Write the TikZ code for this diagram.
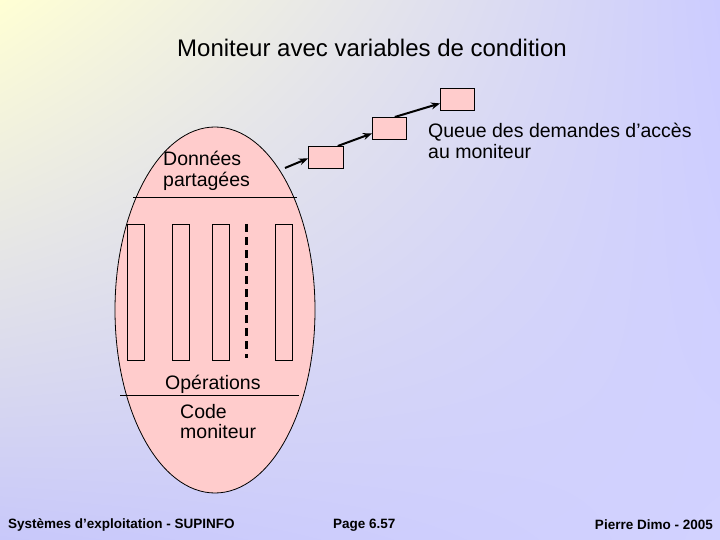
\documentclass[tikz,border=0pt]{standalone}
\usepackage{fontspec}
\setmainfont{Liberation Sans}
\usetikzlibrary{arrows.meta,shadings,calc,shapes.geometric}
\definecolor{pinkf}{RGB}{255,204,204}
\definecolor{ul}{RGB}{255,255,212}
\definecolor{ur}{RGB}{204,204,255}
\definecolor{ll}{RGB}{200,200,250}
\definecolor{lr}{RGB}{210,210,255}
\tikzset{box/.style={draw=black,fill=pinkf,line width=0.8pt},
 lbl/.style={font=\fontsize{19.5}{20.5}\selectfont,align=left,inner sep=0pt},
 foot/.style={font=\bfseries\fontsize{13.5}{15}\selectfont,inner sep=0pt},
 arr/.style={-{Stealth[length=9pt,width=7pt]},line width=2pt}}
\begin{document}
\begin{tikzpicture}[x=1pt,y=-1pt]
\useasboundingbox (0,0) rectangle (720,540);
\shade[upper left=ul,upper right=ur,lower left=ll,lower right=lr] (0,0) rectangle (720,540);
\node[lbl,font=\fontsize{24}{28}\selectfont] (title) at (372,48) {Moniteur avec variables de condition};
\node[box,ellipse,minimum width=200,minimum height=366,inner sep=0pt] (ell) at (215,310) {};
\draw[line width=0.8pt] (133,197) -- (297,197);
\draw[line width=0.8pt] (120,395) -- (299,395);
\foreach \x/\n in {127/r1,172/r2,212/r3,275/r4}
  \node[box,minimum width=17,minimum height=136,inner sep=0pt,anchor=north west] (\n) at (\x,224) {};
\coordinate (d1) at (246,224); \coordinate (d2) at (246,358);
\draw[line width=3pt,dash pattern=on 8pt off 5pt] (d1) -- (d2);
\node[box,minimum width=35,minimum height=22,inner sep=0pt,anchor=north west] (b1) at (308,146) {};
\node[box,minimum width=34,minimum height=22,inner sep=0pt,anchor=north west] (b2) at (372,117) {};
\node[box,minimum width=34,minimum height=22,inner sep=0pt,anchor=north west] (b3) at (440,88) {};
\coordinate (e1) at (285,168);
\draw[arr] (e1) -- ($(b1.west)+(0,1)$);
\draw[arr] ($(b1.north east)+(-6,0)$) -- ($(b2.west)+(0,5)$);
\draw[arr] ($(b2.north east)+(-12,0)$) -- ($(b3.west)+(0,4)$);
\node[lbl,anchor=north west] (q) at (428,123) {Queue des demandes d’accès\\au moniteur};
\node[lbl,anchor=north west] (don) at (163,151) {Données\\partagées};
\node[lbl,anchor=north west] (op) at (165,375) {Opérations};
\node[lbl,anchor=north west] (code) at (180,404) {Code\\moniteur};
\node[foot,anchor=west] (f1) at (8,525) {Systèmes d'exploitation - SUPINFO};
\node[foot,anchor=west] (f2) at (333,525) {Page 6.57};
\node[foot,anchor=east] (f3) at (713,525) {Pierre Dimo - 2005};
\end{tikzpicture}
\end{document}
